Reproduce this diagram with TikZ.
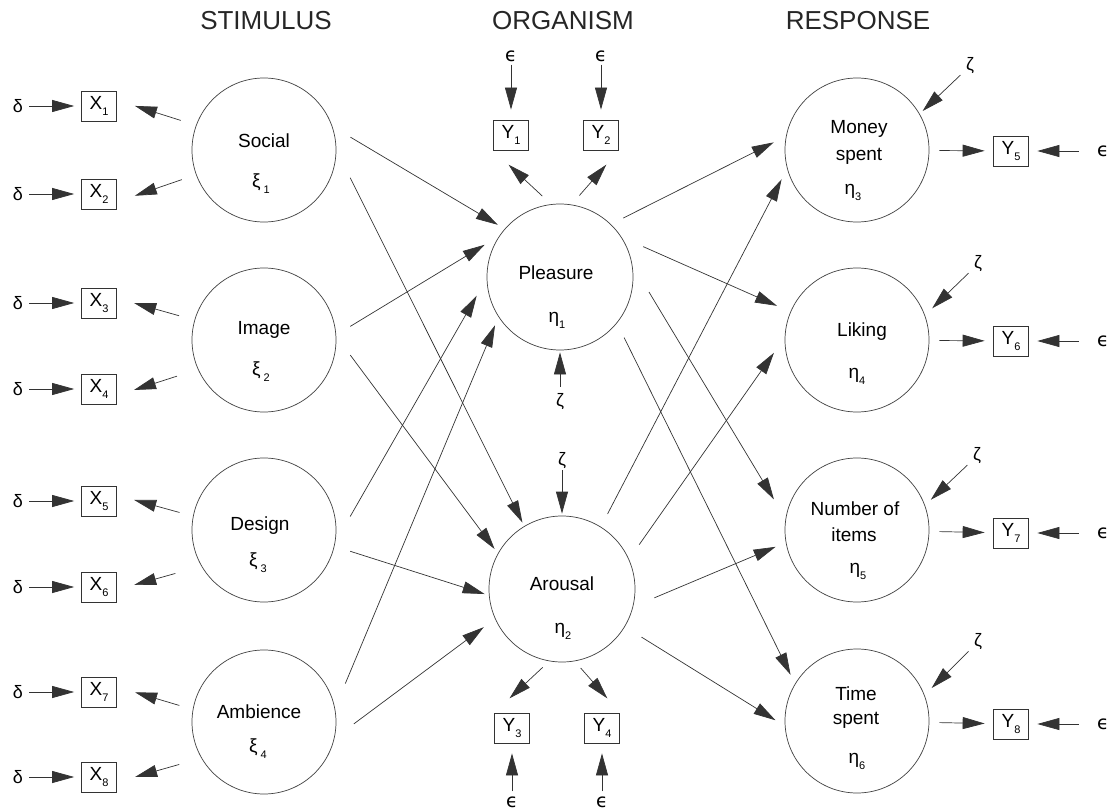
\documentclass[tikz,border=0pt]{standalone}
\usepackage{fontspec}
\setmainfont{Liberation Sans}
\newfontfamily\epsfont{DejaVu Sans}
\usetikzlibrary{arrows.meta}
\newcommand\fsz[1]{\fontsize{#1}{#1}\selectfont}
\newcommand\sbs[1]{\raisebox{-0.32em}{\fsz{11}#1}}
\newcommand\eps{{\epsfont\fsz{19}\symbol{"03F5}}}

\begin{document}
\begin{tikzpicture}[x=1pt,y=-1pt,
  latent/.style={circle, draw=black!75, line width=0.7pt, minimum size=144pt, inner sep=0pt},
  core/.style={latent, minimum size=146pt},
  indicator/.style={draw=black!80, line width=0.7pt, minimum width=35pt, minimum height=30pt, inner sep=0pt, font=\fsz{19}},
  word/.style={inner sep=0pt, font=\fsz{19}},
  noise/.style={inner sep=1pt, font=\fsz{18}},
  title/.style={inner sep=0pt, font=\fsz{26}, text=black!85},
  link/.style={draw=black!80, line width=0.7pt, -{Triangle[length=22pt,width=12pt]}},
]
\useasboundingbox (0,0) rectangle (1114,810);

% column headings
\node[title] (hs) at (266,21) {STIMULUS};
\node[title] (ho) at (563,21) {ORGANISM};
\node[title] (hr) at (858,21) {RESPONSE};

% stimulus constructs
\node[latent] (soc) at (264,150) {};
\node[word] (soc-t) at (264,141) {Social};
\node[word] (soc-g) at (261,184) {ξ\hspace{3pt}\sbs{1}};
\node[latent] (img) at (264,340) {};
\node[word] (img-t) at (264,330) {Image};
\node[word] (img-g) at (261,372) {ξ\hspace{3pt}\sbs{2}};
\node[latent] (des) at (264,530) {};
\node[word] (des-t) at (260,526) {Design};
\node[word] (des-g) at (258,563) {ξ\hspace{3pt}\sbs{3}};
\node[latent] (amb) at (264,722) {};
\node[word] (amb-t) at (259,712) {Ambience};
\node[word] (amb-g) at (258,749) {ξ\hspace{3pt}\sbs{4}};

% organism constructs
\node[core] (ple) at (560,277) {};
\node[word] (ple-t) at (556,273) {Pleasure};
\node[word] (ple-g) at (557,320) {η\sbs{1}};
\node[core] (aro) at (562,589) {};
\node[word] (aro-t) at (562,584) {Arousal};
\node[word] (aro-g) at (563,631) {η\sbs{2}};

% response constructs
\node[latent] (mon) at (857,150) {};
\node[word] (mon-t1) at (859,129) {Money};
\node[word] (mon-t2) at (859,156) {spent};
\node[word] (mon-g) at (853,192) {η\sbs{3}};
\node[latent] (lik) at (857,340) {};
\node[word] (lik-t) at (862,332) {Liking};
\node[word] (lik-g) at (857,376) {η\sbs{4}};
\node[latent] (num) at (857,530) {};
\node[word] (num-t1) at (855,509) {Number of};
\node[word] (num-t2) at (854,535) {items};
\node[word] (num-g) at (858,571) {η\sbs{5}};
\node[latent] (tim) at (857,721) {};
\node[word] (tim-t1) at (856,694) {Time};
\node[word] (tim-t2) at (856,720) {spent};
\node[word] (tim-g) at (857,761) {η\sbs{6}};

% stimulus indicators and their errors
\foreach \i/\y in {1/106,2/194,3/303,4/389,5/501,6/587,7/692,8/777}{
  \node[indicator] (x\i) at (99,\y) {X\sbs{\i}};
  \node[noise] (d\i) at (18,\y) {δ};
  \draw[link, shorten <=5pt, shorten >=7pt] (d\i) -- (x\i);
}
\draw[link, shorten <=16pt, shorten >=19pt] (soc.160) -- (x1.18);
\draw[link, shorten <=15pt, shorten >=19pt] (soc.200) -- (x2.-24);
\draw[link, shorten <=16pt, shorten >=18pt] (img.164) -- (x3.15);
\draw[link, shorten <=22pt, shorten >=18pt] (img.204) -- (x4.-20);
\draw[link, shorten <=14pt, shorten >=18pt] (des.169) -- (x5.18);
\draw[link, shorten <=27pt, shorten >=18pt] (des.210) -- (x6.-9);
\draw[link, shorten <=14pt, shorten >=19pt] (amb.170) -- (x7.16);
\draw[link, shorten <=23pt, shorten >=19pt] (amb.210) -- (x8.-16);

% organism indicators and their errors
\node[indicator] (y1) at (511,135) {Y\sbs{1}};
\node[indicator] (y2) at (601,135) {Y\sbs{2}};
\node[indicator] (y3) at (512,728) {Y\sbs{3}};
\node[indicator] (y4) at (602,728) {Y\sbs{4}};
\node[noise] (e1) at (511,56) {\eps};
\node[noise] (e2) at (601,56) {\eps};
\node[noise] (e3) at (512,802) {\eps};
\node[noise] (e4) at (602,802) {\eps};
\draw[link, shorten <=2pt, shorten >=10pt] (e1) -- (y1);
\draw[link, shorten <=2pt, shorten >=10pt] (e2) -- (y2);
\draw[link, shorten <=4pt, shorten >=10pt] (e3) -- (y3);
\draw[link, shorten <=4pt, shorten >=10pt] (e4) -- (y4);
\draw[link, shorten <=12pt, shorten >=21pt] (ple.97) -- (y1.south west);
\draw[link, shorten <=12pt, shorten >=19pt] (ple.81) -- (y2.south east);
\draw[link, shorten <=9pt, shorten >=21pt] (aro.260) -- (y3.north west);
\draw[link, shorten <=9pt, shorten >=19pt] (aro.280) -- (y4.north east);

% disturbances of the organism constructs
\node[noise] (zp) at (560,402) {ζ};
\node[noise] (za) at (562,461) {ζ};
\draw[link, shorten <=6pt, shorten >=2pt] (zp) -- (ple);
\draw[link, shorten <=0pt, shorten >=2pt] (za) -- (aro);

% stimulus -> organism paths
\draw[link, shorten <=21pt, shorten >=8pt] (soc.19) -- (ple.139);
\draw[link, shorten <=31pt, shorten >=4pt] (soc.0) -- (aro.121.5);
\draw[link, shorten <=16.5pt, shorten >=17pt] (img.4) -- (ple.146);
\draw[link, shorten <=23.5pt, shorten >=5.5pt] (img.3) -- (aro.151);
\draw[link, shorten <=30pt, shorten >=20pt] (des.-10) -- (ple.181);
\draw[link, shorten <=16.5pt, shorten >=4.5pt] (des.-13) -- (aro.185);
\draw[link, shorten <=26.7pt, shorten >=9pt] (amb.11) -- (ple.213);
\draw[link, shorten <=24pt, shorten >=14pt] (amb.-13) -- (aro.204);

% organism -> response paths
\draw[link, shorten <=13.7pt, shorten >=13.7pt] (ple.46) -- (mon.169.5);
\draw[link, shorten <=23.7pt, shorten >=14.6pt] (ple.33) -- (lik.157.5);
\draw[link, shorten <=32.5pt, shorten >=22.5pt] (ple.10) -- (num.171);
\draw[link, shorten <=16pt, shorten >=10pt] (ple.-39) -- (tim.149);
\draw[link, shorten <=14.5pt, shorten >=12pt] (aro.58) -- (mon.195.5);
\draw[link, shorten <=17.7pt, shorten >=18.7pt] (aro.24) -- (lik.178.6);
\draw[link, shorten <=23pt, shorten >=11pt] (aro.-14) -- (num.190);
\draw[link, shorten <=19.6pt, shorten >=11pt] (aro.-31.6) -- (tim.184.6);

% response indicators, errors and disturbances
\foreach \c/\i/\y/\zx/\zy/\a/\s in {mon/5/151/970/66/30/4, lik/6/341/978/264/20/10, num/7/533/977/456/20/8, tim/8/724/978/642/21/10}{
  \node[indicator] (y\i) at (1011,\y) {Y\sbs{\i}};
  \node[noise] (e\i) at (1103,\y) {\eps};
  \node[noise] (z\c) at (\zx,\zy) {ζ};
  \draw[link, shorten <=10pt, shorten >=8.5pt] (\c) -- (y\i);
  \draw[link, shorten <=17pt, shorten >=8.5pt] (e\i) -- (y\i);
  \draw[link, shorten <=6pt, shorten >=\s pt] (z\c) -- (\c.\a);
}
\end{tikzpicture}
\end{document}
